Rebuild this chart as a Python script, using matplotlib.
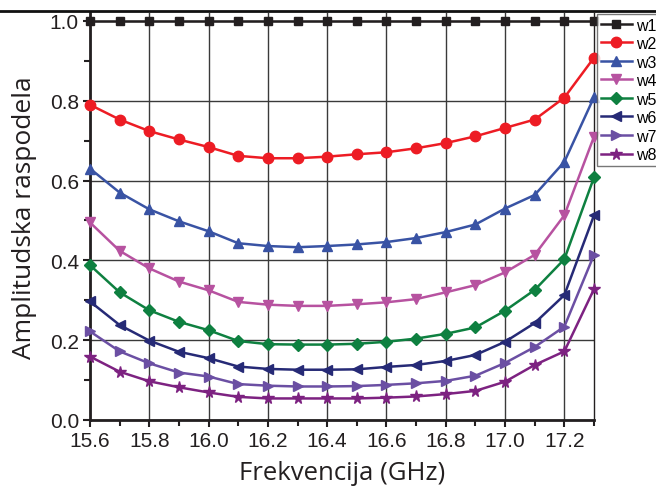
import numpy as np
import matplotlib
matplotlib.use("Agg")
import matplotlib.pyplot as plt
from matplotlib.lines import Line2D
from matplotlib.ticker import MultipleLocator, FormatStrFormatter

freq = [15.6, 15.7, 15.8, 15.9, 16.0, 16.1, 16.2, 16.3, 16.4,
        16.5, 16.6, 16.7, 16.8, 16.9, 17.0, 17.1, 17.2, 17.3]

w1 = [1.0] * 18
w2 = [0.790, 0.753, 0.724, 0.703, 0.684, 0.662, 0.656, 0.656, 0.660,
      0.666, 0.671, 0.681, 0.694, 0.711, 0.732, 0.753, 0.808, 0.908]
w3 = [0.630, 0.570, 0.528, 0.498, 0.473, 0.443, 0.436, 0.433, 0.436,
      0.440, 0.446, 0.456, 0.471, 0.490, 0.530, 0.564, 0.647, 0.809]
w4 = [0.495, 0.424, 0.380, 0.347, 0.325, 0.296, 0.289, 0.286, 0.286,
      0.290, 0.295, 0.303, 0.320, 0.338, 0.370, 0.414, 0.513, 0.710]
w5 = [0.388, 0.320, 0.275, 0.246, 0.225, 0.198, 0.190, 0.189, 0.189,
      0.191, 0.196, 0.204, 0.216, 0.232, 0.274, 0.326, 0.403, 0.608]
w6 = [0.297, 0.238, 0.199, 0.171, 0.155, 0.134, 0.128, 0.126, 0.126,
      0.127, 0.133, 0.138, 0.148, 0.163, 0.196, 0.243, 0.313, 0.513]
w7 = [0.222, 0.172, 0.142, 0.119, 0.109, 0.090, 0.086, 0.084, 0.084,
      0.085, 0.088, 0.092, 0.098, 0.111, 0.143, 0.183, 0.234, 0.414]
w8 = [0.159, 0.121, 0.097, 0.082, 0.069, 0.058, 0.054, 0.054, 0.054,
      0.054, 0.056, 0.059, 0.065, 0.073, 0.096, 0.138, 0.172, 0.328]

series = [w1, w2, w3, w4, w5, w6, w7, w8]
labels = ["w1", "w2", "w3", "w4", "w5", "w6", "w7", "w8"]
colors = ["#231f20", "#ed1c24", "#3953a4", "#b752a0",
          "#0e8040", "#262a76", "#6b4fa3", "#7d2281"]
markers = ["s", "o", "^", "v", "D", "<", ">", "*"]
msizes = [6, 7.5, 7.5, 7.5, 6.5, 7.5, 7.5, 8.5]

fig = plt.figure(figsize=(6.56, 4.89), dpi=100)
ax = fig.add_axes([90 / 656, 1 - 421 / 489, (594 - 90) / 656, (421 - 14) / 489])

for y, lab, c, m, ms in zip(series, labels, colors, markers, msizes):
    ax.plot(freq, y, color=c, marker=m, markersize=ms, linewidth=1.8,
            label=lab, clip_on=False, zorder=3)

ax.set_xlim(15.6, 17.3)
ax.set_ylim(0, 1.02)
ax.xaxis.set_major_locator(MultipleLocator(0.2))
ax.xaxis.set_minor_locator(MultipleLocator(0.1))
ax.yaxis.set_major_locator(MultipleLocator(0.2))
ax.yaxis.set_minor_locator(MultipleLocator(0.1))
ax.xaxis.set_major_formatter(FormatStrFormatter("%.1f"))
ax.yaxis.set_major_formatter(FormatStrFormatter("%.1f"))
ax.grid(True, which="major", color="#3a3a3a", linewidth=1.0)
ax.set_axisbelow(True)

ax.tick_params(which="both", direction="out", width=1.5, colors="#231f20",
               labelsize=15, labelcolor="#231f20", pad=3)
ax.tick_params(which="major", length=5)
ax.tick_params(which="minor", length=4)
for lbl in ax.get_xticklabels() + ax.get_yticklabels():
    lbl.set_fontfamily("Liberation Sans")

ax.spines["left"].set_linewidth(2)
ax.spines["bottom"].set_linewidth(2)
ax.spines["right"].set_linewidth(1)
ax.spines["top"].set_visible(False)
for s in ax.spines.values():
    s.set_color("#231f20")

ax.set_xlabel("Frekvencija (GHz)", fontsize=18.5, family="Open Sans",
              color="#231f20", labelpad=7)
ax.set_ylabel("Amplitudska raspodela", fontsize=19, family="Open Sans",
              color="#231f20", labelpad=9)

leg = fig.legend(loc="upper left", bbox_to_anchor=(597 / 656, 1 - 15 / 489),
                 prop={"family": "Liberation Sans", "size": 11.5},
                 handlelength=2.0, handletextpad=0.2, labelspacing=0.22,
                 borderpad=0.22, borderaxespad=0, fancybox=False,
                 frameon=True)
leg.get_frame().set_edgecolor("#555555")
leg.get_frame().set_linewidth(1)

fig.add_artist(Line2D([0, 1], [1 - 12 / 489, 1 - 12 / 489], color="#111111",
                      linewidth=2, transform=fig.transFigure))

fig.savefig("out.png", dpi=100)
